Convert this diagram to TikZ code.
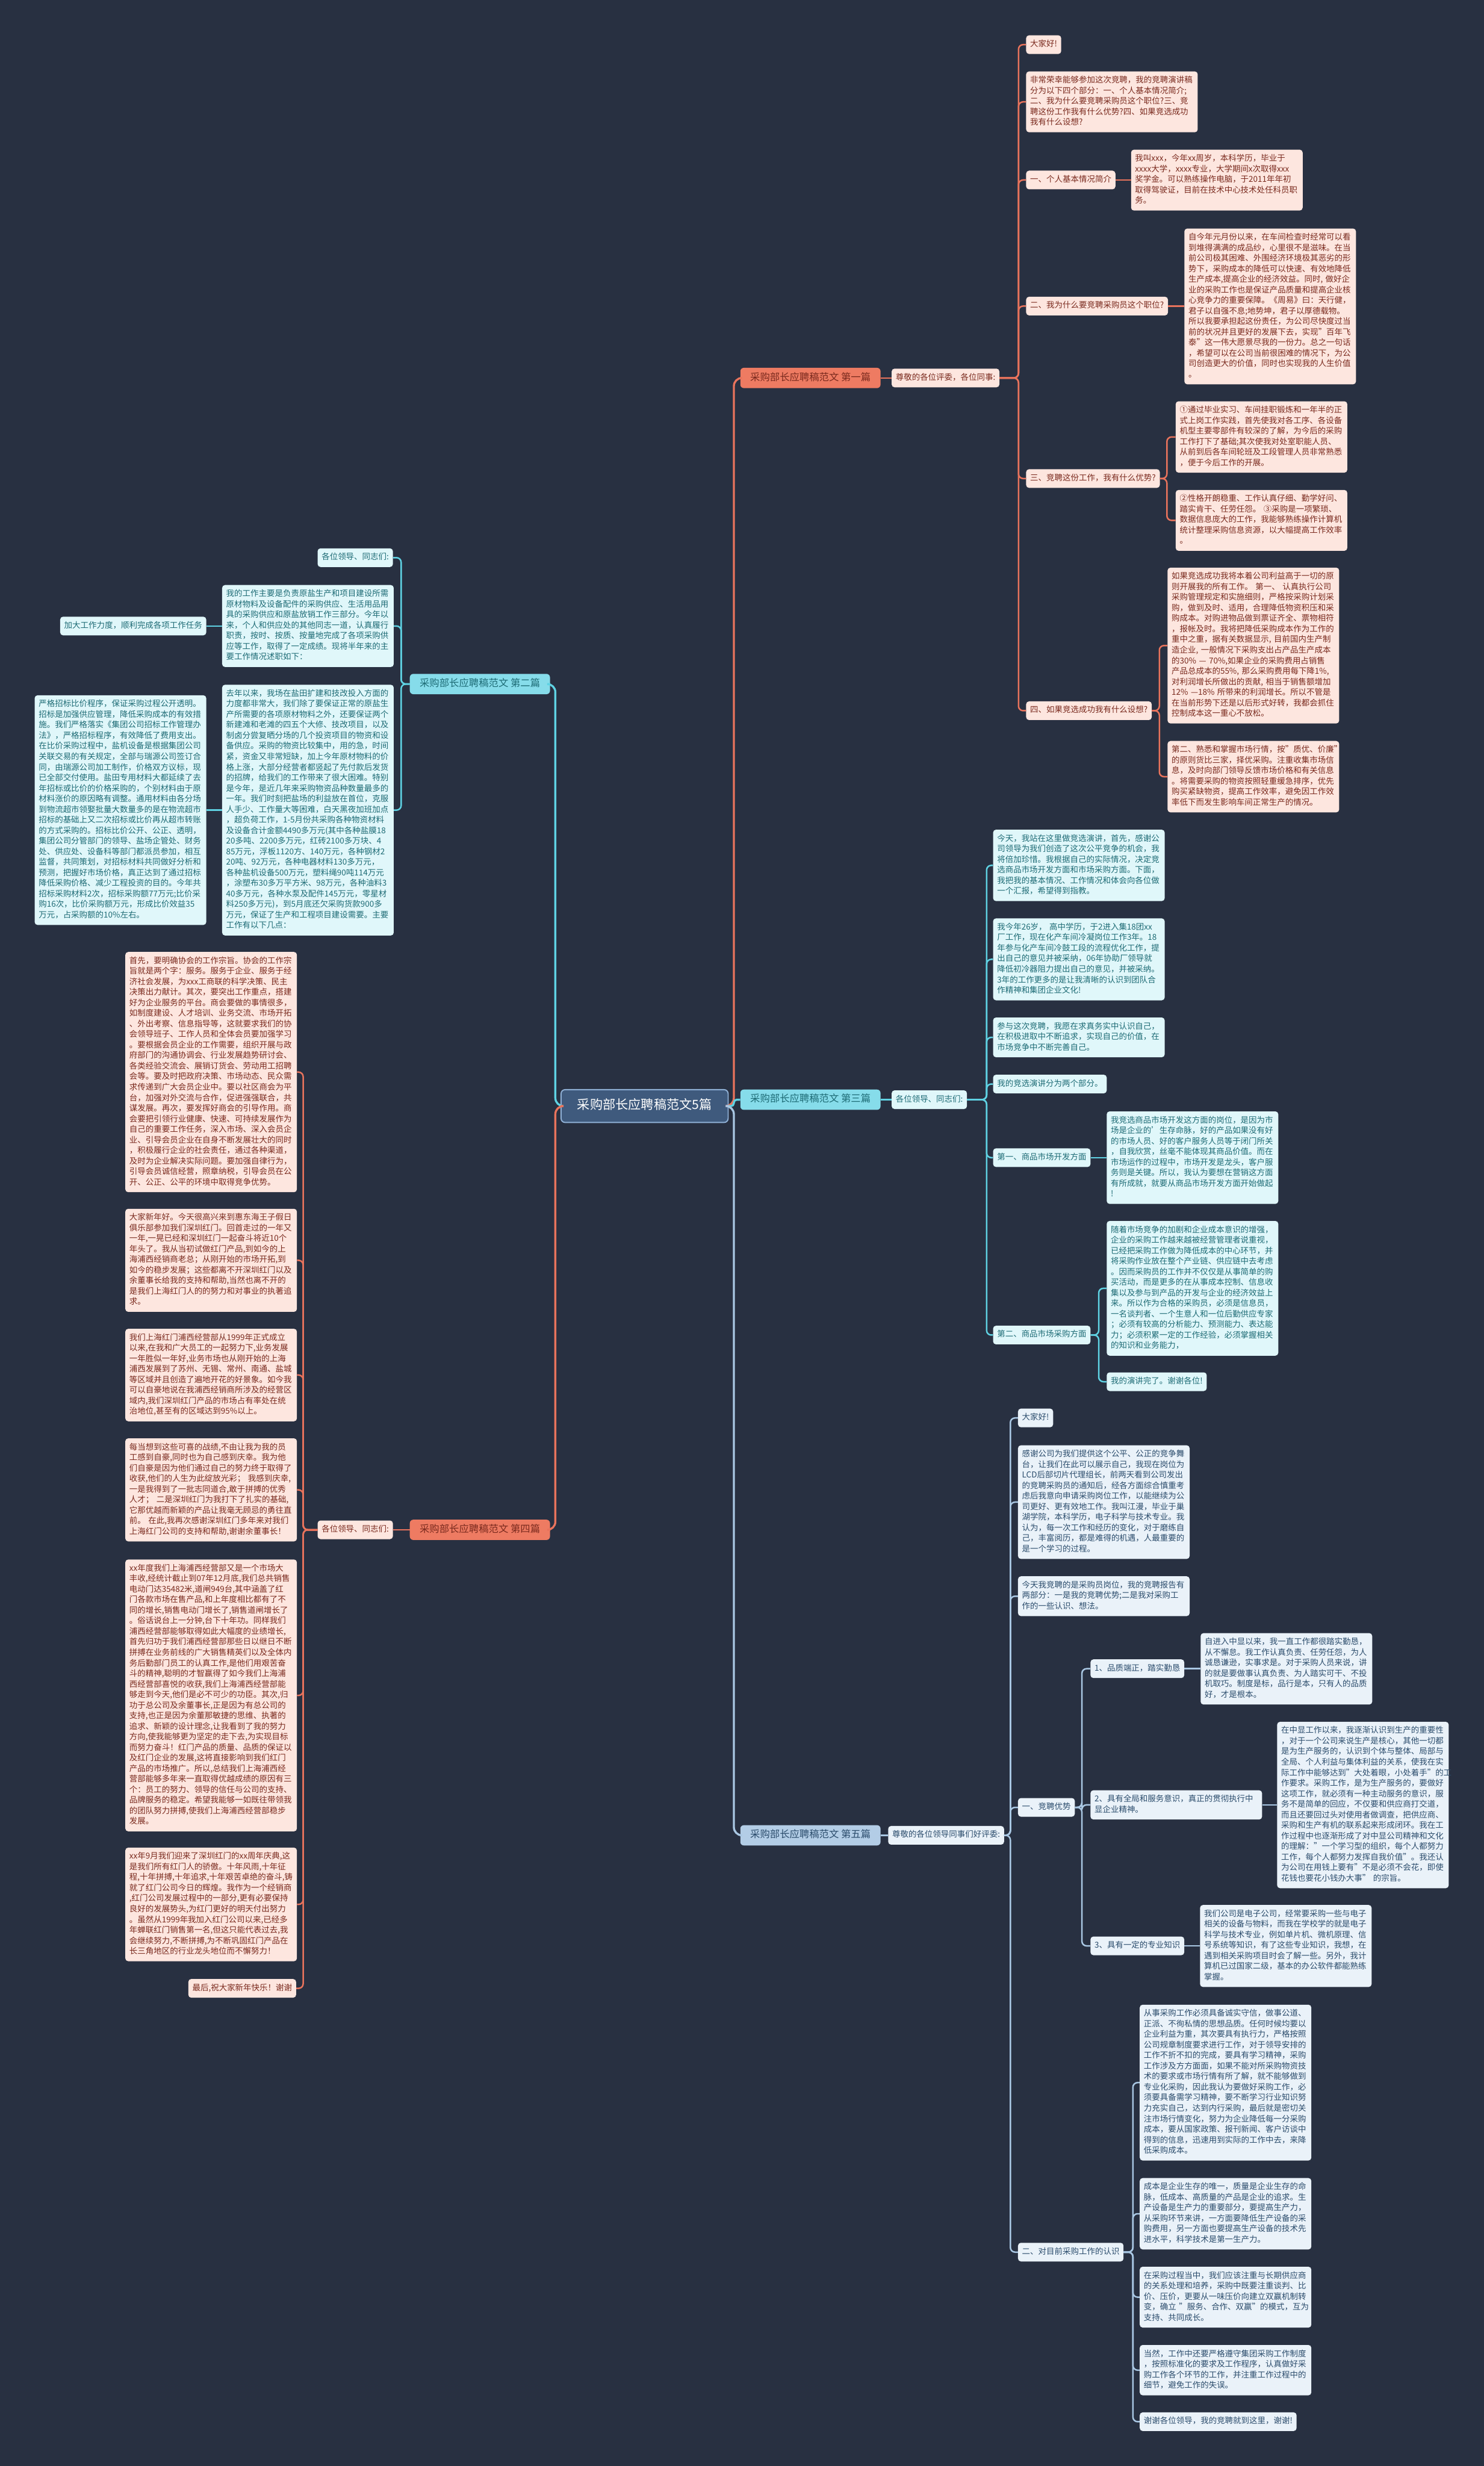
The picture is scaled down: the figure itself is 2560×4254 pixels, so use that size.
\documentclass[tikz,border=0pt]{standalone}
\usepackage{fontspec}
\setmainfont{Noto Sans CJK SC}
\definecolor{bgc}{HTML}{283041}
\definecolor{oline}{HTML}{E8735C}
\definecolor{ofill}{HTML}{FDE6DF}
\definecolor{otext}{HTML}{7A2A1E}
\definecolor{olab}{HTML}{EE7B62}
\definecolor{cline}{HTML}{5FD2E3}
\definecolor{cfill}{HTML}{E0F7FA}
\definecolor{ctext}{HTML}{1D6B75}
\definecolor{clab}{HTML}{86DCEA}
\definecolor{bline}{HTML}{A9C7E3}
\definecolor{bfill}{HTML}{EAF2F9}
\definecolor{btext}{HTML}{2B4C6C}
\definecolor{blab}{HTML}{B3CDE6}
\definecolor{cen}{HTML}{3F5A7D}
\definecolor{cenb}{HTML}{8FB0D6}
\newcommand\nfont{\fontsize{14}{18.2}\selectfont}
\newcommand\lfont{\fontsize{17}{22}\selectfont}
\newcommand\cfont{\fontsize{22}{28.6}\selectfont}
\tikzset{
  sn/.style={font=\nfont, inner xsep=7pt, inner ysep=7pt, rounded corners=5pt,
    execute at begin node=\strut, execute at end node=\strut},
  wb/.style={sn, text width=282pt, align=left, anchor=north west},
  on/.style={fill=ofill, text=otext},
  cn/.style={fill=cfill, text=ctext},
  bn/.style={fill=bfill, text=btext},
  lab/.style={font=\lfont, inner xsep=17pt, inner ysep=6.5pt, rounded corners=6pt,
    execute at begin node=\strut},
  ol/.style={draw=oline, line width=2.6pt, rounded corners=8pt},
  cl/.style={draw=cline, line width=2.6pt, rounded corners=8pt},
  bl/.style={draw=bline, line width=2.6pt, rounded corners=8pt},
}
\begin{document}
\begin{tikzpicture}[x=1pt,y=-1pt]
\useasboundingbox (0,0) rectangle (2560,4254);
\fill[bgc] (0,0) rectangle (2560,4254);

% ---------- center and labels ----------
\node[font=\cfont, fill=cen, draw=cenb, line width=2pt, text=white, inner xsep=28pt, inner ysep=14pt, rounded corners=7pt, execute at begin node=\strut] (C) at (1112,1908) {采购部长应聘稿范文5篇};
\node[lab, fill=olab, text=otext, anchor=west] (L1) at (1277,652) {采购部长应聘稿范文 第一篇};
\node[lab, fill=clab, text=ctext, anchor=east] (L2) at (949,1180) {采购部长应聘稿范文 第二篇};
\node[lab, fill=clab, text=ctext, anchor=west] (L3) at (1277,1897) {采购部长应聘稿范文 第三篇};
\node[lab, fill=olab, text=otext, anchor=east] (L4) at (949,2639) {采购部长应聘稿范文 第四篇};
\node[lab, fill=blab, text=btext, anchor=west] (L5) at (1277,3166) {采购部长应聘稿范文 第五篇};

\draw[draw=oline, line width=3.5pt, rounded corners=14pt] (C.east) -- (1266,1908) |- (L1.west);
\draw[draw=cline, line width=3.5pt, rounded corners=5pt] (C.east) -- (1266,1908) |- (L3.west);
\draw[draw=bline, line width=3.5pt, rounded corners=14pt] (C.east) -- (1266,1908) |- (L5.west);
\draw[draw=cline, line width=3.5pt, rounded corners=14pt] (C.west) -- (958,1908) |- (L2.east);
\draw[draw=oline, line width=3.5pt, rounded corners=14pt] (C.west) -- (958,1908) |- (L4.east);

% ---------- branch 1 ----------
\node[sn,on,anchor=west] (R1) at (1538,652) {尊敬的各位评委，各位同事:};
\coordinate (t1) at (1757,652);
\node[sn,on,anchor=west] (A1) at (1770,77) {大家好!};
\node[wb,on] (A2) at (1770,123) {非常荣幸能够参加这次竞聘，我的竞聘演讲稿\\分为以下四个部分：一、个人基本情况简介;\\二、我为什么要竞聘采购员这个职位?三、竞\\聘这份工作我有什么优势?四、如果竞选成功\\我有什么设想?};
\node[sn,on,anchor=west] (A3) at (1770,310.5) {一、个人基本情况简介};
\node[wb,on] (A3a) at (1951,258) {我叫xxx，今年xx周岁，本科学历，毕业于\\xxxx大学，xxxx专业，大学期间x次取得xxx\\奖学金。可以熟练操作电脑，于2011年年初\\取得驾驶证，目前在技术中心技术处任科员职\\务。};
\node[sn,on,anchor=west] (A4) at (1770,528) {二、我为什么要竞聘采购员这个职位?};
\node[wb,on] (A4a) at (2043,394) {自今年元月份以来，在车间检查时经常可以看\\到堆得满满的成品纱，心里很不是滋味。在当\\前公司极其困难、外围经济环境极其恶劣的形\\势下，采购成本的降低可以快速、有效地降低\\生产成本,提高企业的经济效益。同时,~做好企\\业的采购工作也是保证产品质量和提高企业核\\心竞争力的重要保障。《周易》曰：天行健，\\君子以自强不息;地势坤，君子以厚德载物。\\所以我要承担起这份责任，为公司尽快度过当\\前的状况并且更好的发展下去，实现"百年飞\\泰"这一伟大愿景尽我的一份力。总之一句话\\，希望可以在公司当前很困难的情况下，为公\\司创造更大的价值，同时也实现我的人生价值\\。};
\node[sn,on,anchor=west] (A5) at (1770,825.5) {三、竞聘这份工作，我有什么优势?};
\node[wb,on] (A5a) at (2028,692) {①通过毕业实习、车间挂职锻炼和一年半的正\\式上岗工作实践，首先使我对各工序、各设备\\机型主要零部件有较深的了解，为今后的采购\\工作打下了基础;其次使我对处室职能人员、\\从前到后各车间轮班及工段管理人员非常熟悉\\，便于今后工作的开展。};
\node[wb,on] (A5b) at (2028,845) {②性格开朗稳重、工作认真仔细、勤学好问、\\踏实肯干、任劳任怨。~③采购是一项繁琐、\\数据信息庞大的工作，我能够熟练操作计算机\\统计整理采购信息资源，以大幅提高工作效率\\。};
\node[sn,on,anchor=west] (A6) at (1770,1226) {四、如果竞选成功我有什么设想?};
\node[wb,on] (A6a) at (2014,979) {如果竞选成功我将本着公司利益高于一切的原\\则开展我的所有工作。~第一、~认真执行公司\\采购管理规定和实施细则，严格按采购计划采\\购，做到及时、适用，合理降低物资积压和采\\购成本。对购进物品做到票证齐全、票物相符\\，报帐及时。我将把降低采购成本作为工作的\\重中之重，据有关数据显示,~目前国内生产制\\造企业,~一般情况下采购支出占产品生产成本\\的30\%~—~70\%,如果企业的采购费用占销售\\产品总成本的55\%,~那么采购费用每下降1\%,\\对利润增长所做出的贡献,~相当于销售额增加\\12\%~—18\%~所带来的利润增长。所以不管是\\在当前形势下还是以后形式好转，我都会抓住\\控制成本这一重心不放松。};
\node[wb,on] (A6b) at (2014,1278) {第二、熟悉和掌握市场行情，按"质优、价廉"\\的原则货比三家，择优采购。注重收集市场信\\息，及时向部门领导反馈市场价格和有关信息\\。将需要采购的物资按照轻重缓急排序，优先\\购买紧缺物资，提高工作效率，避免因工作效\\率低下而发生影响车间正常生产的情况。};

\draw[ol] (L1.east) -- (R1.west);
\foreach \c in {A1,A2,A3,A4,A5,A6} \draw[ol] (R1.east) -- (t1) |- (\c.west);
\draw[ol] (A3.east) -- (A3.east -| A3a.west);
\draw[ol] (A4.east) -- (A4.east -| A4a.west);
\draw[ol] (A5.east) -- ++(12,0) |- (A5a.west);
\draw[ol] (A5.east) -- ++(12,0) |- (A5b.west);
\draw[ol] (A6.east) -- ++(13,0) |- (A6a.west);
\draw[ol] (A6.east) -- ++(13,0) |- (A6b.west);

% ---------- branch 2 ----------
\coordinate (t2) at (692,1180);
\node[sn,cn,anchor=east] (B1) at (678,962) {各位领导、同志们:};
\node[wb,cn] (B2) at (383,1009) {我的工作主要是负责原盐生产和项目建设所需\\原材物料及设备配件的采购供应、生活用品用\\具的采购供应和原盐放销工作三部分。今年以\\来，个人和供应处的其他同志一道，认真履行\\职责，按时、按质、按量地完成了各项采购供\\应等工作，取得了一定成绩。现将半年来的主\\要工作情况述职如下：};
\node[wb,cn] (B3) at (383,1181) {去年以来，我场在盐田扩建和技改投入方面的\\力度都非常大，我们除了要保证正常的原盐生\\产所需要的各项原材物料之外，还要保证两个\\新建滩和老滩的四五个大修、技改项目，以及\\制卤分尝复晒分场的几个投资项目的物资和设\\备供应。采购的物资比较集中，用的急，时间\\紧，资金又非常短缺，加上今年原材物料的价\\格上涨，大部分经营者都竖起了先付款后发货\\的招牌，给我们的工作带来了很大困难。特别\\是今年，是近几年来采购物资品种数量最多的\\一年。我们时刻把盐场的利益放在首位，克服\\人手少、工作量大等困难，白天黑夜加班加点\\，超负荷工作，1-5月份共采购各种物资材料\\及设备合计金额4490多万元(其中各种盐膜18\\20多吨、2200多万元，红砖2100多万块、4\\85万元，浮板1120方、140万元，各种钢材2\\20吨、92万元，各种电器材料130多万元，\\各种盐机设备500万元，塑料绳90吨114万元\\，涂塑布30多万平方米、98万元，各种油料3\\40多万元，各种水泵及配件145万元，零星材\\料250多万元)，到5月底还欠采购货款900多\\万元，保证了生产和工程项目建设需要。主要\\工作有以下几点：};
\node[sn,cn,anchor=east] (B2a) at ([xshift=-27pt]B2.west) {加大工作力度，顺利完成各项工作任务};
\node[wb,cn,anchor=east] (B3a) at ([xshift=-27pt]B3.west) {严格招标比价程序，保证采购过程公开透明。\\招标是加强供应管理，降低采购成本的有效措\\施。我们严格落实《集团公司招标工作管理办\\法》，严格招标程序，有效降低了费用支出。\\在比价采购过程中，盐机设备是根据集团公司\\关联交易的有关规定，全部与瑞源公司签订合\\同，由瑞源公司加工制作，价格双方议标，现\\已全部交付使用。盐田专用材料大都延续了去\\年招标或比价的价格采购的，个别材料由于原\\材料涨价的原因略有调整。通用材料由各分场\\到物流超市领娶批量大数量多的是在物流超市\\招标的基础上又二次招标或比价再从超市转账\\的方式采购的。招标比价公开、公正、透明，\\集团公司分管部门的领导、盐场企管处、财务\\处、供应处、设备科等部门都派员参加，相互\\监督，共同策划，对招标材料共同做好分析和\\预测，把握好市场价格，真正达到了通过招标\\降低采购价格、减少工程投资的目的。今年共\\招标采购材料2次，招标采购额77万元;比价采\\购16次，比价采购额万元，形成比价效益35\\万元，占采购额的10\%左右。};
\foreach \c in {B1,B2,B3} \draw[cl] (L2.west) -- (t2) |- (\c.east);
\draw[cl] (B2.west) -- (B2a.east);
\draw[cl] (B3.west) -- (B3a.east);

% ---------- branch 3 ----------
\node[sn,cn,anchor=west] (R3) at (1538,1897) {各位领导、同志们:};
\coordinate (t3) at (1702,1897);
\node[wb,cn] (C1) at (1713,1431) {今天，我站在这里做竞选演讲，首先，感谢公\\司领导为我们创造了这次公平竞争的机会，我\\将倍加珍惜。我根据自己的实际情况，决定竞\\选商品市场开发方面和市场采购方面。下面，\\我把我的基本情况、工作情况和体会向各位做\\一个汇报，希望得到指教。};
\node[wb,cn] (C2) at (1713,1584) {我今年26岁，~高中学历，于2进入集18团xx\\厂工作，现在化产车间冷凝岗位工作3年。18\\年参与化产车间冷鼓工段的流程优化工作，提\\出自己的意见并被采纳，06年协助厂领导就\\降低初冷器阻力提出自己的意见，并被采纳。\\3年的工作更多的是让我清晰的认识到团队合\\作精神和集团企业文化!};
\node[wb,cn] (C3) at (1713,1755) {参与这次竞聘，我愿在求真务实中认识自己，\\在积极进取中不断追求，实现自己的价值，在\\市场竞争中不断完善自己。};
\node[sn,cn,anchor=west] (C4) at (1713,1870) {我的竞选演讲分为两个部分。};
\node[sn,cn,anchor=west] (C5) at (1713,1997) {第一、商品市场开发方面};
\node[wb,cn] (C5a) at (1909,1917) {我竞选商品市场开发这方面的岗位，是因为市\\场是企业的'生存命脉，好的产品如果没有好\\的市场人员、好的客户服务人员等于闭门所关\\，自我欣赏，丝毫不能体现其商品价值。而在\\市场运作的过程中，市场开发是龙头，客户服\\务则是关键。所以，我认为要想在营销这方面\\有所成就，就要从商品市场开发方面开始做起\\!};
\node[sn,cn,anchor=west] (C6) at (1713,2303) {第二、商品市场采购方面};
\node[wb,cn] (C6a) at (1909,2106) {随着市场竞争的加剧和企业成本意识的增强，\\企业的采购工作越来越被经营管理者说重视，\\已经把采购工作做为降低成本的中心环节，并\\将采购作业放在整个产业链、供应链中去考虑\\。因而采购员的工作并不仅仅是从事简单的购\\买活动，而是更多的在从事成本控制、信息收\\集以及参与到产品的开发与企业的经济效益上\\来。所以作为合格的采购员，必须是信息员，\\一名谈判者、一个生意人和一位后勤供应专家\\；必须有较高的分析能力、预测能力、表达能\\力；必须积累一定的工作经验，必须掌握相关\\的知识和业务能力，};
\node[sn,cn,anchor=west] (C6b) at (1909,2383.5) {我的演讲完了。谢谢各位!};
\draw[cl] (L3.east) -- (R3.west);
\foreach \c in {C1,C2,C3,C4,C5,C6} \draw[cl] (R3.east) -- (t3) |- (\c.west);
\draw[cl] (C5.east) -- (C5.east -| C5a.west);
\draw[cl] (C6.east) -- ++(14,0) |- (C6a.west);
\draw[cl] (C6.east) -- ++(14,0) |- (C6b.west);

% ---------- branch 4 ----------
\node[sn,on,anchor=east] (R4) at (678,2639) {各位领导、同志们:};
\coordinate (t4) at (523,2639);
\node[wb,on] (D1) at (216,1642) {首先，要明确协会的工作宗旨。协会的工作宗\\旨就是两个字：服务。服务于企业、服务于经\\济社会发展，为xxx工商联的科学决策、民主\\决策出力献计。其次，要突出工作重点，搭建\\好为企业服务的平台。商会要做的事情很多，\\如制度建设、人才培训、业务交流、市场开拓\\、外出考察、信息指导等，这就要求我们的协\\会领导班子、工作人员和全体会员要加强学习\\。要根据会员企业的工作需要，组织开展与政\\府部门的沟通协调会、行业发展趋势研讨会、\\各类经验交流会、展销订货会、劳动用工招聘\\会等。要及时把政府决策、市场动态、民众需\\求传递到广大会员企业中。要以社区商会为平\\台，加强对外交流与合作，促进强强联合，共\\谋发展。再次，要发挥好商会的引导作用。商\\会要把引领行业健康、快速、可持续发展作为\\自己的重要工作任务，深入市场、深入会员企\\业、引导会员企业在自身不断发展壮大的同时\\，积极履行企业的社会责任，通过各种渠道，\\及时为企业解决实际问题。要加强自律行为，\\引导会员诚信经营，照章纳税，引导会员在公\\开、公正、公平的环境中取得竞争优势。};
\node[wb,on] (D2) at (216,2085) {大家新年好。今天很高兴来到惠东海王子假日\\俱乐部参加我们深圳红门。回首走过的一年又\\一年,一晃已经和深圳红门一起奋斗将近10个\\年头了。我从当初试做红门产品,到如今的上\\海浦西经销商老总；从刚开始的市场开拓,到\\如今的稳步发展；这些都离不开深圳红门以及\\余董事长给我的支持和帮助,当然也离不开的\\是我们上海红门人的的努力和对事业的执著追\\求。};
\node[wb,on] (D3) at (216,2292) {我们上海红门浦西经营部从1999年正式成立\\以来,在我和广大员工的一起努力下,业务发展\\一年胜似一年好,业务市场也从刚开始的上海\\浦西发展到了苏州、无锡、常州、南通、盐城\\等区域并且创造了遍地开花的好景象。如今我\\可以自豪地说在我浦西经销商所涉及的经营区\\域内,我们深圳红门产品的市场占有率处在统\\治地位,甚至有的区域达到95\%以上。};
\node[wb,on] (D4) at (216,2481) {每当想到这些可喜的战绩,不由让我为我的员\\工感到自豪,同时也为自己感到庆幸。我为他\\们自豪是因为他们通过自己的努力终于取得了\\收获,他们的人生为此绽放光彩；~我感到庆幸,\\一是我得到了一批志同道合,敢于拼搏的优秀\\人才；~二是深圳红门为我打下了扎实的基础,\\它那优越而新颖的产品让我毫无顾忌的勇往直\\前。~在此,我再次感谢深圳红门多年来对我们\\上海红门公司的支持和帮助,谢谢余董事长！};
\node[wb,on] (D5) at (216,2690) {xx年度我们上海浦西经营部又是一个市场大\\丰收,经统计截止到07年12月底,我们总共销售\\电动门达35482米,道闸949台,其中涵盖了红\\门各款市场在售产品,和上年度相比都有了不\\同的增长,销售电动门增长了,销售道闸增长了\\。俗话说台上一分钟,台下十年功。同样我们\\浦西经营部能够取得如此大幅度的业绩增长,\\首先归功于我们浦西经营部那些日以继日不断\\拼搏在业务前线的广大销售精英们以及全体内\\务后勤部门员工的认真工作,是他们用艰苦奋\\斗的精神,聪明的才智赢得了如今我们上海浦\\西经营部喜悦的收获,我们上海浦西经营部能\\够走到今天,他们是必不可少的功臣。其次,归\\功于总公司及余董事长,正是因为有总公司的\\支持,也正是因为余董那敏捷的思维、执著的\\追求、新颖的设计理念,让我看到了我的努力\\方向,使我能够更为坚定的走下去,为实现目标\\而努力奋斗！红门产品的质量、品质的保证以\\及红门企业的发展,这将直接影响到我们红门\\产品的市场推广。所以,总结我们上海浦西经\\营部能够多年来一直取得优越成绩的原因有三\\个：员工的努力、领导的信任与公司的支持、\\品牌服务的稳定。希望我能够一如既往带领我\\的团队努力拼搏,使我们上海浦西经营部稳步\\发展。};
\node[wb,on] (D6) at (216,3187) {xx年9月我们迎来了深圳红门的xx周年庆典,这\\是我们所有红门人的骄傲。十年风雨,十年征\\程,十年拼搏,十年追求,十年艰苦卓绝的奋斗,铸\\就了红门公司今日的辉煌。我作为一个经销商\\,红门公司发展过程中的一部分,更有必要保持\\良好的发展势头,为红门更好的明天付出努力\\。虽然从1999年我加入红门公司以来,已经多\\年蝉联红门销售第一名,但这只能代表过去,我\\会继续努力,不断拼搏,为不断巩固红门产品在\\长三角地区的行业龙头地位而不懈努力！};
\node[sn,on,anchor=east] (D7) at (511,3430) {最后,祝大家新年快乐！谢谢};
\draw[ol] (L4.west) -- (R4.east);
\foreach \c in {D1,D2,D3,D4,D5,D6,D7} \draw[ol] (R4.west) -- (t4) |- (\c.east);

% ---------- branch 5 ----------
\node[sn,bn,anchor=west] (R5) at (1532,3166) {尊敬的各位领导同事们好评委:};
\coordinate (t5) at (1743,3166);
\node[sn,bn,anchor=west] (E1) at (1756,2446) {大家好!};
\node[wb,bn] (E2) at (1756,2493) {感谢公司为我们提供这个公平、公正的竞争舞\\台，让我们在此可以展示自己，我现在岗位为\\LCD后部切片代理组长，前两天看到公司发出\\的竞聘采购员的通知后，经各方面综合慎重考\\虑后我意向申请采购岗位工作，以能继续为公\\司更好、更有效地工作。我叫江漫，毕业于巢\\湖学院，本科学历，电子科学与技术专业。我\\认为，每一次工作和经历的变化，对于磨练自\\己，丰富阅历，都是难得的机遇，人最重要的\\是一个学习的过程。};
\node[wb,bn] (E3) at (1756,2719) {今天我竞聘的是采购员岗位，我的竞聘报告有\\两部分：一是我的竞聘优势;二是我对采购工\\作的一些认识、想法。};
\node[sn,bn,anchor=west] (E4) at (1756,3117.8) {一、竞聘优势};
\node[sn,bn,anchor=west] (E4a) at (1881,2878.6) {1、品质端正，踏实勤恳};
\node[wb,bn] (E4a1) at (2071,2817) {自进入中显以来，我一直工作都很踏实勤恳，\\从不懈怠。我工作认真负责、任劳任怨，为人\\诚恳谦逊，实事求是。对于采购人员来说，讲\\的就是要做事认真负责、为人踏实可干、不投\\机取巧。制度是标，品行是本，只有人的品质\\好，才是根本。};
\node[wb,bn,anchor=west] (E4b) at (1881,3113.5) {2、具有全局和服务意识，真正的贯彻执行中\\显企业精神。};
\node[wb,bn] (E4b1) at (2203,2970) {在中显工作以来，我逐渐认识到生产的重要性\\，对于一个公司来说生产是核心，其他一切都\\是为生产服务的，认识到个体与整体、局部与\\全局、个人利益与集体利益的关系，使我在实\\际工作中能够达到"大处着眼，小处着手"的工\\作要求。采购工作，是为生产服务的，要做好\\这项工作，就必须有一种主动服务的意识，服\\务不是简单的回应，不仅要和供应商打交道，\\而且还要回过头对使用者做调查，把供应商、\\采购和生产有机的联系起来形成闭环。我在工\\作过程中也逐渐形成了对中显公司精神和文化\\的理解："一个学习型的组织，每个人都努力\\工作，每个人都努力发挥自我价值"。我还认\\为公司在用钱上要有"不是必须不会花，即使\\花钱也要花小钱办大事"~的宗旨。};
\node[sn,bn,anchor=west] (E4c) at (1881,3356.7) {3、具有一定的专业知识};
\node[wb,bn] (E4c1) at (2070,3286) {我们公司是电子公司，经常要采购一些与电子\\相关的设备与物料，而我在学校学的就是电子\\科学与技术专业，例如单片机、微机原理、信\\号系统等知识，有了这些专业知识，我想，在\\遇到相关采购项目时会了解一些。另外，我计\\算机已过国家二级，基本的办公软件都能熟练\\掌握。};
\node[sn,bn,anchor=west] (E5) at (1756,3885) {二、对目前采购工作的认识};
\node[wb,bn] (E5a) at (1966,3458) {从事采购工作必须具备诚实守信，做事公道、\\正派、不徇私情的思想品质。任何时候均要以\\企业利益为重，其次要具有执行力，严格按照\\公司规章制度要求进行工作，对于领导安排的\\工作不折不扣的完成，要具有学习精神，采购\\工作涉及方方面面，如果不能对所采购物资技\\术的要求或市场行情有所了解，就不能够做到\\专业化采购，因此我认为要做好采购工作，必\\须要具备需学习精神，要不断学习行业知识努\\力充实自己，达到内行采购，最后就是密切关\\注市场行情变化，努力为企业降低每一分采购\\成本，要从国家政策、报刊新闻、客户访谈中\\得到的信息，迅速用到实际的工作中去，来降\\低采购成本。};
\node[wb,bn] (E5b) at (1966,3757) {成本是企业生存的唯一，质量是企业生存的命\\脉，低成本、高质量的产品是企业的追求。生\\产设备是生产力的重要部分，要提高生产力，\\从采购环节来讲，一方面要降低生产设备的采\\购费用，另一方面也要提高生产设备的技术先\\进水平，科学技术是第一生产力。};
\node[wb,bn] (E5c) at (1966,3910) {在采购过程当中，我们应该注重与长期供应商\\的关系处理和培养，采购中既要注重谈判、比\\价、压价，更要从一味压价向建立双赢机制转\\变，确立~"服务、合作、双赢"的模式，互为\\支持、共同成长。};
\node[wb,bn] (E5d) at (1966,4045) {当然，工作中还要严格遵守集团采购工作制度\\，按照标准化的要求及工作程序，认真做好采\\购工作各个环节的工作，并注重工作过程中的\\细节，避免工作的失误。};
\node[sn,bn,anchor=west] (E5e) at (1966,4177.5) {谢谢各位领导，我的竞聘就到这里，谢谢!};
\draw[bl] (L5.east) -- (R5.west);
\foreach \c in {E1,E2,E3,E4,E5} \draw[bl] (R5.east) -- (t5) |- (\c.west);
\foreach \c in {E4a,E4b,E4c} \draw[bl] (E4.east) -- ++(12,0) |- (\c.west);
\draw[bl] (E4a.east) -- (E4a.east -| E4a1.west);
\draw[bl] (E4b.east) -- (E4b.east -| E4b1.west);
\draw[bl] (E4c.east) -- (E4c.east -| E4c1.west);
\foreach \c in {E5a,E5b,E5c,E5d,E5e} \draw[bl] (E5.east) -- ++(16,0) |- (\c.west);
\end{tikzpicture}
\end{document}
